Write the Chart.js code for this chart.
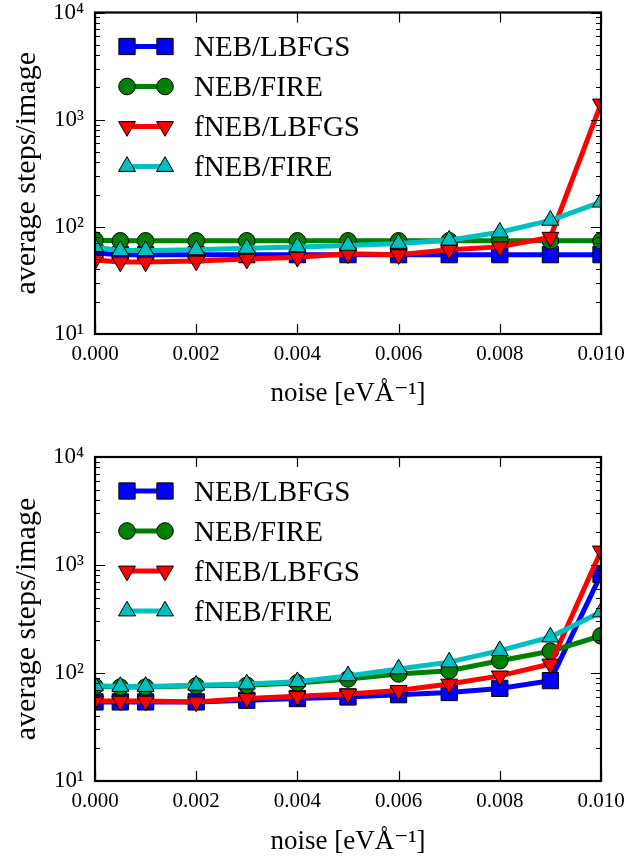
<!DOCTYPE html>
<html>
<head>
<meta charset="utf-8">
<script src="https://cdn.jsdelivr.net/npm/chart.js@4.4.0/dist/chart.umd.min.js"></script>
<style>
html, body { margin: 0; padding: 0; background: #fff; }
.panel { position: absolute; left: 0; width: 628px; height: 429px; }
</style>
</head>
<body>
<div class="panel" style="top:0"><canvas id="topChart" width="628" height="429"></canvas></div>
<div class="panel" style="top:429px"><canvas id="bottomChart" width="628" height="429"></canvas></div>
<script>
// noise levels (x) shared by both panels
const noise = [0, 0.0005, 0.001, 0.002, 0.003, 0.004, 0.005, 0.006, 0.007, 0.008, 0.009, 0.010];
const seriesNames = ['NEB/LBFGS', 'NEB/FIRE', 'fNEB/LBFGS', 'fNEB/FIRE'];

// upper panel
const nebLbfgsTop  = [57, 55, 55, 55, 55, 55, 55, 55, 55, 55, 55, 55];
const nebFireTop   = [75, 74, 74, 74, 74, 74, 74, 74, 74, 74, 74, 74];
const fnebLbfgsTop = [49, 47, 47, 48, 50, 52, 56, 55, 61, 65, 80, 1400];
const fnebFireTop  = [65, 60, 60, 61, 63, 65, 67, 70, 75, 89, 115, 170];

// lower panel
const nebLbfgsBot  = [54, 54, 54, 54, 56, 58, 60, 63, 66, 72, 85, 820];
const nebFireBot   = [75, 74, 74, 76, 77, 81, 88, 98, 105, 130, 159, 221];
const fnebLbfgsBot = [55, 55, 55, 54, 58, 61, 64, 69, 79, 94, 121, 1350];
const fnebFireBot  = [76, 75, 75, 77, 79, 83, 94, 109, 126, 161, 215, 367];

// axis ticks
const xTickValues = [0, 0.002, 0.004, 0.006, 0.008, 0.010];
const yDecades = [10, 100, 1000, 10000];

const colors = ['#0000ff', '#008000', '#ff0000', '#00bfbf'];
const markers = [
    { pointStyle: 'rect', radius: 11.5, rotation: 0 },
    { pointStyle: 'circle', radius: 8.3, rotation: 0 },
    { pointStyle: 'triangle', radius: 9.8, rotation: 180 },
    { pointStyle: 'triangle', radius: 9.8, rotation: 0 }
];
const serif = 'Liberation Serif, DejaVu Serif, serif';
const supDigits = { '1': '\u00b9', '2': '\u00b2', '3': '\u00b3', '4': '\u2074' };

// every tick of the log axis: 1..9 times each decade
const yTickValues = [];
for (let d = 0; d < yDecades.length - 1; d++) {
    for (let k = 1; k < 10; k++) yTickValues.push(yDecades[d] * k);
}
yTickValues.push(yDecades[yDecades.length - 1]);

// axes frame, inward ticks on all four sides and the legend
const framePlugin = {
    id: 'frame',
    afterDatasetsDraw(chart) {
        const ctx = chart.ctx;
        const a = chart.chartArea;
        const xs = chart.scales.x, ys = chart.scales.y;
        ctx.save();
        ctx.strokeStyle = '#000';
        ctx.lineWidth = 1.2;
        ctx.beginPath();
        xs.ticks.forEach(t => {
            const px = Math.round(xs.getPixelForValue(t.value)) + 0.5;
            ctx.moveTo(px, a.bottom); ctx.lineTo(px, a.bottom - 10);
            ctx.moveTo(px, a.top); ctx.lineTo(px, a.top + 10);
        });
        ys.ticks.forEach(t => {
            const py = Math.round(ys.getPixelForValue(t.value)) + 0.5;
            const major = Math.abs(Math.log10(t.value) % 1) < 1e-9;
            const len = major ? 10 : 5;
            ctx.moveTo(a.left, py); ctx.lineTo(a.left + len, py);
            ctx.moveTo(a.right, py); ctx.lineTo(a.right - len, py);
        });
        ctx.stroke();
        ctx.lineWidth = 2.2;
        ctx.strokeRect(a.left, a.top, a.right - a.left, a.bottom - a.top);

        // legend
        chart.data.datasets.forEach((ds, i) => {
            const y = a.top + 34 + 40 * i;
            const x1 = a.left + 32, x2 = a.left + 70;
            ctx.strokeStyle = colors[i];
            ctx.lineWidth = 5;
            ctx.beginPath();
            ctx.moveTo(x1, y); ctx.lineTo(x2, y);
            ctx.stroke();
            ctx.fillStyle = colors[i];
            ctx.strokeStyle = '#000';
            ctx.lineWidth = 1;
            [x1, x2].forEach(x => {
                Chart.helpers.drawPoint(ctx, Object.assign({ borderWidth: 1 }, markers[i]), x, y);
            });
            ctx.fillStyle = '#000';
            ctx.font = '29px ' + serif;
            ctx.textAlign = 'left';
            ctx.textBaseline = 'middle';
            ctx.fillText(ds.label, a.left + 99, y + 2);
        });
        ctx.restore();
    }
};

function makeChart(id, series, padTop, xHeight, titlePad) {
    const ctx = document.getElementById(id).getContext('2d');
    return new Chart(ctx, {
        type: 'line',
        data: {
            datasets: series.map((vals, i) => ({
                label: seriesNames[i],
                data: noise.map((x, j) => ({ x: x, y: vals[j] })),
                borderColor: colors[i],
                backgroundColor: colors[i],
                borderWidth: 5,
                pointStyle: markers[i].pointStyle,
                pointRadius: markers[i].radius,
                pointRotation: markers[i].rotation,
                pointBackgroundColor: colors[i],
                pointBorderColor: '#000',
                pointBorderWidth: 1,
                tension: 0,
                clip: 0,
                order: 3 - i
            }))
        },
        options: {
            responsive: false,
            animation: false,
            layout: { padding: { left: 0, right: 27, top: padTop, bottom: 0 } },
            plugins: {
                legend: { display: false },
                tooltip: { enabled: false }
            },
            scales: {
                x: {
                    type: 'linear',
                    min: 0,
                    max: 0.01,
                    afterBuildTicks: s => { s.ticks = xTickValues.map(v => ({ value: v })); },
                    afterFit: s => {
                        s.height = xHeight;
                        s.paddingLeft = 0;
                        s.paddingRight = 0;
                    },
                    ticks: {
                        callback: v => v.toFixed(3),
                        color: '#000',
                        font: { family: serif, size: 21 },
                        padding: 8,
                        maxRotation: 0,
                        autoSkip: false
                    },
                    grid: { display: false, drawTicks: false },
                    border: { display: false },
                    title: {
                        display: true,
                        text: 'noise [eV\u00c5\u207b\u00b9]',
                        color: '#000',
                        font: { family: serif, size: 27 },
                        padding: { top: 0, bottom: titlePad }
                    }
                },
                y: {
                    type: 'logarithmic',
                    min: 10,
                    max: 10000,
                    afterBuildTicks: s => { s.ticks = yTickValues.map(v => ({ value: v })); },
                    afterFit: s => {
                        s.width = 95;
                        s.paddingTop = 0;
                        s.paddingBottom = 0;
                    },
                    ticks: {
                        callback: v => {
                            const e = Math.log10(v);
                            if (Math.abs(e - Math.round(e)) > 1e-9) return '';
                            return '10' + supDigits[String(Math.round(e))];
                        },
                        color: '#000',
                        font: { family: serif, size: 23 },
                        padding: 11,
                        autoSkip: false
                    },
                    grid: { display: false, drawTicks: false },
                    border: { display: false },
                    title: {
                        display: true,
                        text: 'average steps/image',
                        color: '#000',
                        font: { family: serif, size: 30 },
                        padding: { top: 9, bottom: 0 }
                    }
                }
            }
        },
        plugins: [framePlugin]
    });
}

makeChart('topChart', [nebLbfgsTop, nebFireTop, fnebLbfgsTop, fnebFireTop], 12, 95, 19);
makeChart('bottomChart', [nebLbfgsBot, nebFireBot, fnebLbfgsBot, fnebFireBot], 28, 77, 0);
</script>
</body>
</html>
